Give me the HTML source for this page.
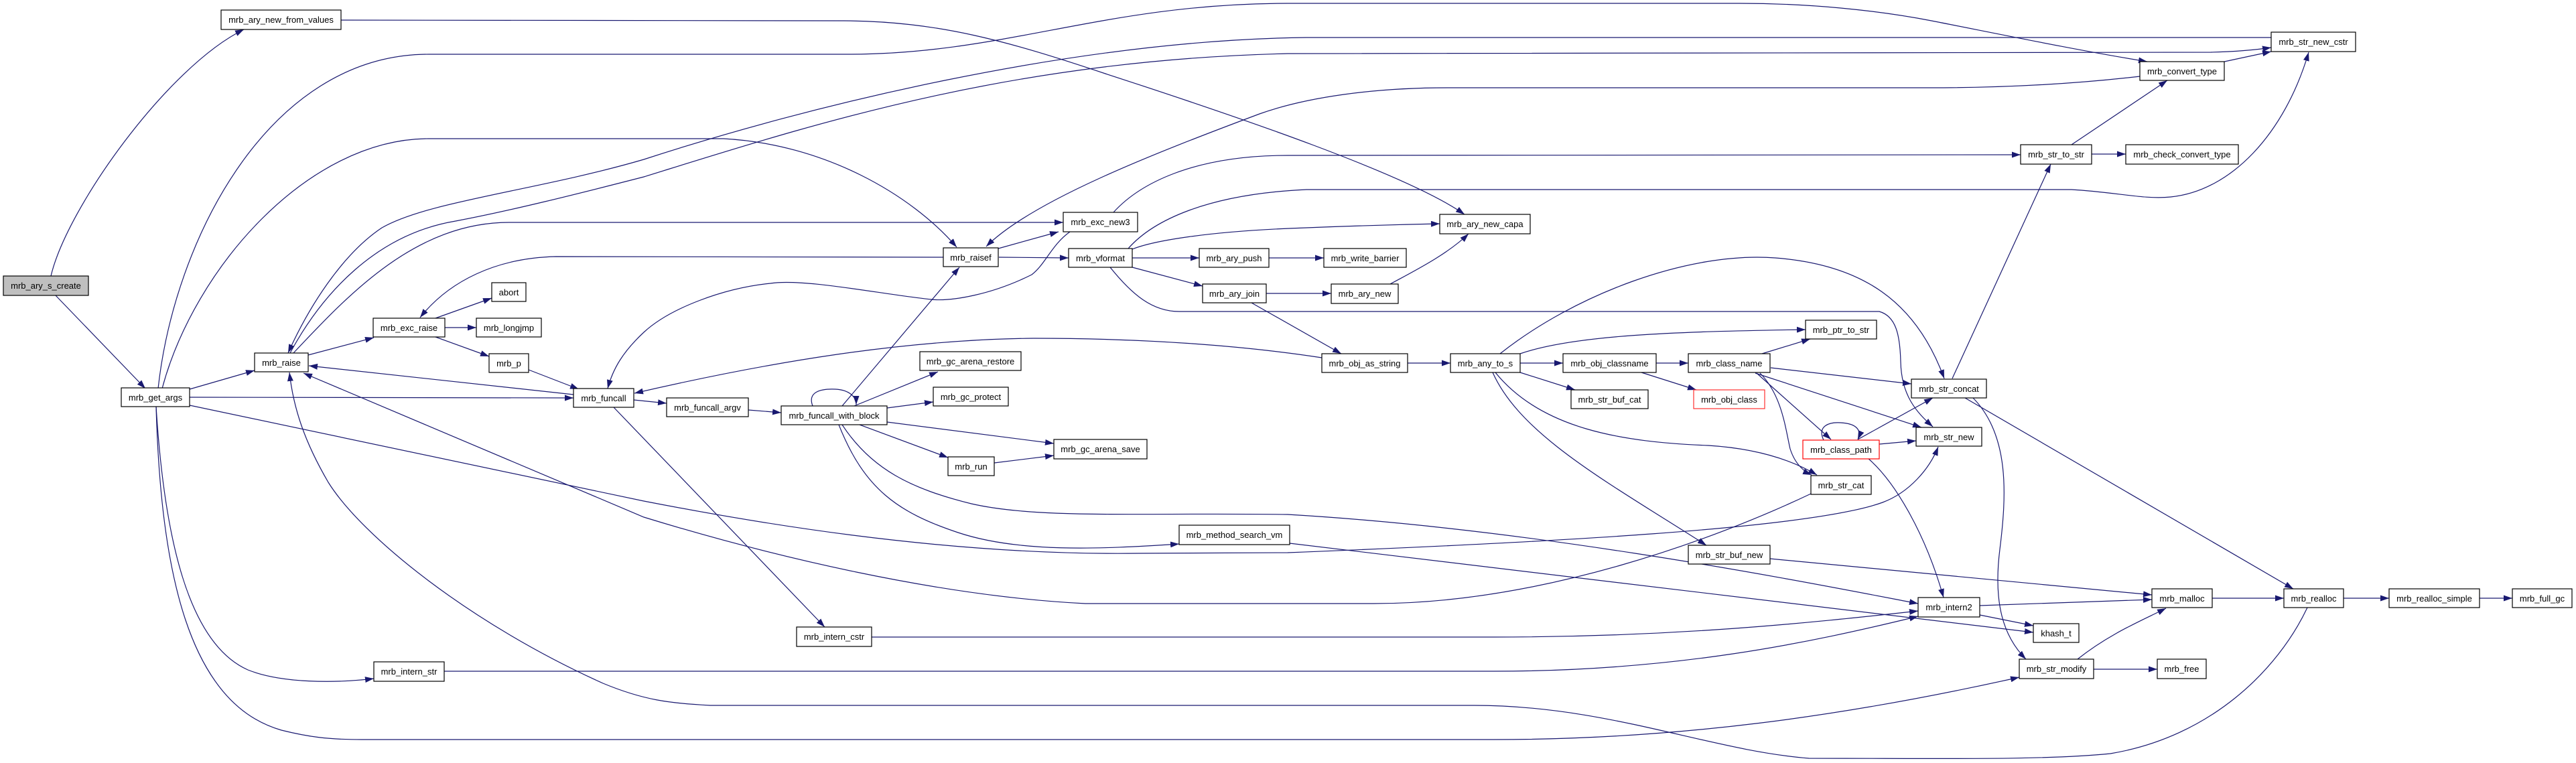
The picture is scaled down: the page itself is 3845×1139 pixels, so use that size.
<!DOCTYPE html>
<html><head><meta charset="utf-8"><style>
html,body{margin:0;padding:0;background:#fff;}
svg{display:block;}
text{font-family:"Liberation Sans",Arial,sans-serif;font-size:13px;fill:#000;text-anchor:middle;}
.e{fill:none;stroke:#191970;stroke-width:1.2;marker-end:url(#a);}
.n{fill:#fff;stroke:#000;stroke-width:1.2;}
</style></head><body>
<svg width="3845" height="1139" viewBox="0 0 3845 1139" xmlns="http://www.w3.org/2000/svg">
<defs><marker id="a" markerUnits="userSpaceOnUse" markerWidth="13" markerHeight="9" refX="13" refY="4.5" orient="auto"><path d="M0,0 L13,4.5 L0,9 z" fill="#191970"/></marker></defs>
<rect width="3845" height="1139" fill="#fff"/>
<g>
<path class="e" d="M76,412 C100,310 250,100 364,44"/>
<path class="e" d="M83,441 L217,580"/>
<path class="e" d="M509,30 L1260,31 C1400,32 1500,60 1650,110 C1850,175 2100,260 2186,320"/>
<path class="e" d="M283,581 L380,553"/>
<path class="e" d="M242,580 C290,400 460,207 640,207 L1080,207 C1230,215 1360,290 1428,369"/>
<path class="e" d="M236,580 C260,360 400,81 640,81 L1267,81 C1500,81 1650,5 1922,5 L2596,5 C2700,5 2800,15 2883,31 C2980,50 3100,75 3205,92"/>
<path class="e" d="M283,593 L856,594"/>
<path class="e" d="M283,605 L961,748 C1100,775 1400,830 1700,826 L1922,825 C2300,810 2700,790 2810,750 C2850,735 2880,700 2893,667"/>
<path class="e" d="M233,607 C245,800 280,960 370,1000 C420,1020 500,1020 558,1013"/>
<path class="e" d="M233,607 C240,850 280,1050 420,1090 C460,1100 490,1104 540,1104 L2230,1104 C2500,1104 2750,1070 3014,1011"/>
<path class="e" d="M663,1002 L2230,1002 C2500,1002 2700,960 2863,920"/>
<path class="e" d="M1301,951 L2230,951 C2500,951 2700,930 2863,912"/>
<path class="e" d="M460,530 L558,504"/>
<path class="e" d="M650,475 L734,445"/>
<path class="e" d="M664,489 L711,489"/>
<path class="e" d="M650,503 L730,532"/>
<path class="e" d="M789,552 L864,581"/>
<path class="e" d="M856,589 L461,546"/>
<path class="e" d="M438,527 C520,440 620,332 760,332 L1587,332"/>
<path class="e" d="M3390,56 L1950,56 C1600,60 1200,160 961,238 C800,285 640,300 570,340 C510,380 460,460 430,527"/>
<path class="e" d="M433,527 C480,440 560,350 680,330 C760,315 860,290 961,264 C1200,190 1500,90 1922,80 L3300,78 C3340,77 3370,74 3390,71"/>
<path class="e" d="M1408,384 L830,383 C740,385 670,420 627,474"/>
<path class="e" d="M1490,371 L1580,346"/>
<path class="e" d="M1491,384 L1595,385"/>
<path class="e" d="M1597,346 C1570,365 1560,395 1540,410 C1480,440 1420,450 1390,447 C1320,440 1200,415 1150,423 C1080,430 1000,460 961,496 C930,525 915,550 907,580"/>
<path class="e" d="M946,597 L995,602"/>
<path class="e" d="M916,608 L1231,936"/>
<path class="e" d="M1117,612 L1166,616"/>
<path class="e" d="M1213,606 C1205,585 1225,580 1247,581 C1267,582 1278,592 1278,604"/>
<path class="e" d="M1257,606 L1432,399"/>
<path class="e" d="M1275,606 L1400,555"/>
<path class="e" d="M1324,609 L1393,600"/>
<path class="e" d="M1324,630 L1573,662"/>
<path class="e" d="M1283,634 L1415,683"/>
<path class="e" d="M1484,691 L1573,680"/>
<path class="e" d="M1252,634 C1290,730 1340,765 1430,795 C1520,825 1640,820 1760,812"/>
<path class="e" d="M1257,634 C1300,700 1360,730 1450,752 C1550,775 1700,765 1922,768 C2300,790 2700,870 2863,901"/>
<path class="e" d="M1973,534 C1850,515 1700,505 1543,505 C1350,507 1150,540 947,587"/>
<path class="e" d="M1662,317 C1700,275 1780,232 1922,232 L3016,231"/>
<path class="e" d="M1684,371 C1720,330 1800,290 1950,283 L3092,283 C3160,287 3200,298 3240,294 C3330,285 3410,200 3446,78"/>
<path class="e" d="M1690,372 C1720,360 1800,345 1950,340 C2050,336 2100,335 2149,334"/>
<path class="e" d="M1690,385 L1790,385"/>
<path class="e" d="M1690,399 L1795,427"/>
<path class="e" d="M1657,399 C1690,440 1720,465 1760,465 L2805,465 C2830,472 2836,500 2837,540 C2838,590 2860,615 2885,637"/>
<path class="e" d="M1894,385 L1976,385"/>
<path class="e" d="M1890,438 L1987,438"/>
<path class="e" d="M1868,452 L2002,528"/>
<path class="e" d="M2075,424 C2110,405 2160,380 2192,349"/>
<path class="e" d="M2101,542 L2165,542"/>
<path class="e" d="M2269,542 L2333,542"/>
<path class="e" d="M2472,542 L2520,542"/>
<path class="e" d="M2630,528 L2702,506"/>
<path class="e" d="M2269,528 C2350,500 2500,495 2695,492"/>
<path class="e" d="M2239,528 C2350,440 2520,375 2650,385 C2780,395 2860,450 2902,565"/>
<path class="e" d="M2269,556 L2351,582"/>
<path class="e" d="M2232,556 C2300,640 2420,660 2550,665 C2630,670 2680,690 2712,709"/>
<path class="e" d="M2228,556 C2270,650 2400,720 2547,814"/>
<path class="e" d="M2450,556 L2532,582"/>
<path class="e" d="M2622,557 L2733,656"/>
<path class="e" d="M2627,557 C2660,590 2665,640 2672,670 C2680,695 2695,705 2704,709"/>
<path class="e" d="M2620,557 L2868,638"/>
<path class="e" d="M2643,549 L2853,573"/>
<path class="e" d="M2722,657 C2712,636 2730,630 2747,631 C2768,632 2780,640 2773,656"/>
<path class="e" d="M2773,656 L2885,594"/>
<path class="e" d="M2805,663 L2860,658"/>
<path class="e" d="M2788,684 C2830,720 2875,800 2901,892"/>
<path class="e" d="M2703,737 C2560,805 2300,901 2050,901 L1620,901 C1400,890 1150,830 961,772 L453,557"/>
<path class="e" d="M3444,907 C3400,1000 3300,1100 3150,1125 C3050,1135 2900,1132 2700,1132 C2550,1120 2400,1053 2200,1053 L1060,1053 C1000,1050 960,1045 900,1020 C700,930 540,800 490,720 C455,660 438,610 432,556"/>
<path class="e" d="M1925,811 L3035,944"/>
<path class="e" d="M2955,918 L3035,934"/>
<path class="e" d="M2955,904 L3212,895"/>
<path class="e" d="M2642,834 L3212,888"/>
<path class="e" d="M3101,984 C3150,945 3200,925 3233,908"/>
<path class="e" d="M3125,999 L3220,999"/>
<path class="e" d="M3302,893 L3409,893"/>
<path class="e" d="M3498,893 L3566,893"/>
<path class="e" d="M3701,893 L3750,893"/>
<path class="e" d="M2933,594 L3423,879"/>
<path class="e" d="M2945,594 C3000,650 2995,740 2985,820 C2975,900 2990,950 3024,984"/>
<path class="e" d="M2914,565 L3061,245"/>
<path class="e" d="M3092,216 L3235,120"/>
<path class="e" d="M3122,230 L3173,230"/>
<path class="e" d="M3320,92 L3390,77"/>
<path class="e" d="M3194,114 C3100,125 3000,131 2880,131 L2160,131 C2050,131 1950,145 1880,170 C1720,230 1540,300 1472,368"/>
</g>
<g>
<rect class="n" x="5" y="412" width="127" height="29" style="fill:#bfbfbf"/><text x="68.5" y="431">mrb_ary_s_create</text>
<rect class="n" x="330" y="15" width="179" height="29"/><text x="419.5" y="34">mrb_ary_new_from_values</text>
<rect class="n" x="181" y="579" width="102" height="28"/><text x="232" y="598">mrb_get_args</text>
<rect class="n" x="380" y="527" width="80" height="28"/><text x="420" y="546">mrb_raise</text>
<rect class="n" x="557" y="475" width="107" height="28"/><text x="610.5" y="494">mrb_exc_raise</text>
<rect class="n" x="734" y="422" width="51" height="28"/><text x="759.5" y="441">abort</text>
<rect class="n" x="711" y="475" width="97" height="28"/><text x="759.5" y="494">mrb_longjmp</text>
<rect class="n" x="730" y="528" width="59" height="28"/><text x="759.5" y="547">mrb_p</text>
<rect class="n" x="856" y="580" width="90" height="28"/><text x="901" y="599">mrb_funcall</text>
<rect class="n" x="558" y="988" width="105" height="29"/><text x="610.5" y="1007">mrb_intern_str</text>
<rect class="n" x="1587" y="317" width="111" height="29"/><text x="1642.5" y="336">mrb_exc_new3</text>
<rect class="n" x="1408" y="370" width="82" height="28"/><text x="1449" y="389">mrb_raisef</text>
<rect class="n" x="1595" y="371" width="95" height="28"/><text x="1642.5" y="390">mrb_vformat</text>
<rect class="n" x="1790" y="371" width="104" height="28"/><text x="1842" y="390">mrb_ary_push</text>
<rect class="n" x="1795" y="424" width="95" height="28"/><text x="1842.5" y="443">mrb_ary_join</text>
<rect class="n" x="1373" y="525" width="151" height="28"/><text x="1448.5" y="544">mrb_gc_arena_restore</text>
<rect class="n" x="995" y="594" width="122" height="28"/><text x="1056" y="613">mrb_funcall_argv</text>
<rect class="n" x="1166" y="606" width="158" height="28"/><text x="1245" y="625">mrb_funcall_with_block</text>
<rect class="n" x="1393" y="578" width="112" height="28"/><text x="1449" y="597">mrb_gc_protect</text>
<rect class="n" x="1573" y="656" width="139" height="29"/><text x="1642.5" y="675">mrb_gc_arena_save</text>
<rect class="n" x="1415" y="682" width="69" height="28"/><text x="1449.5" y="701">mrb_run</text>
<rect class="n" x="1760" y="784" width="165" height="29"/><text x="1842.5" y="803">mrb_method_search_vm</text>
<rect class="n" x="1189" y="936" width="112" height="29"/><text x="1245" y="955">mrb_intern_cstr</text>
<rect class="n" x="2149" y="320" width="135" height="29"/><text x="2216.5" y="339">mrb_ary_new_capa</text>
<rect class="n" x="1976" y="371" width="123" height="28"/><text x="2037.5" y="390">mrb_write_barrier</text>
<rect class="n" x="1987" y="424" width="100" height="29"/><text x="2037" y="443">mrb_ary_new</text>
<rect class="n" x="2695" y="478" width="106" height="28"/><text x="2748" y="497">mrb_ptr_to_str</text>
<rect class="n" x="1973" y="528" width="128" height="28"/><text x="2037" y="547">mrb_obj_as_string</text>
<rect class="n" x="2165" y="528" width="104" height="28"/><text x="2217" y="547">mrb_any_to_s</text>
<rect class="n" x="2333" y="528" width="139" height="28"/><text x="2402.5" y="547">mrb_obj_classname</text>
<rect class="n" x="2520" y="528" width="122" height="28"/><text x="2581" y="547">mrb_class_name</text>
<rect class="n" x="2345" y="582" width="115" height="28"/><text x="2402.5" y="601">mrb_str_buf_cat</text>
<rect class="n" x="2528" y="582" width="106" height="28" style="stroke:#ff3030"/><text x="2581" y="601">mrb_obj_class</text>
<rect class="n" x="2691" y="657" width="114" height="28" style="stroke:#ff0000"/><text x="2748" y="676">mrb_class_path</text>
<rect class="n" x="2703" y="710" width="90" height="28"/><text x="2748" y="729">mrb_str_cat</text>
<rect class="n" x="2520" y="814" width="122" height="28"/><text x="2581" y="833">mrb_str_buf_new</text>
<rect class="n" x="2853" y="566" width="112" height="28"/><text x="2909" y="585">mrb_str_concat</text>
<rect class="n" x="2860" y="638" width="98" height="28"/><text x="2909" y="657">mrb_str_new</text>
<rect class="n" x="2863" y="892" width="92" height="29"/><text x="2909" y="911">mrb_intern2</text>
<rect class="n" x="3390" y="48" width="126" height="29"/><text x="3453" y="67">mrb_str_new_cstr</text>
<rect class="n" x="3194" y="92" width="126" height="28"/><text x="3257" y="111">mrb_convert_type</text>
<rect class="n" x="3016" y="216" width="106" height="29"/><text x="3069" y="235">mrb_str_to_str</text>
<rect class="n" x="3173" y="216" width="168" height="29"/><text x="3257" y="235">mrb_check_convert_type</text>
<rect class="n" x="3212" y="879" width="90" height="28"/><text x="3257" y="898">mrb_malloc</text>
<rect class="n" x="3409" y="879" width="89" height="28"/><text x="3453.5" y="898">mrb_realloc</text>
<rect class="n" x="3566" y="879" width="135" height="28"/><text x="3633.5" y="898">mrb_realloc_simple</text>
<rect class="n" x="3750" y="879" width="89" height="28"/><text x="3794.5" y="898">mrb_full_gc</text>
<rect class="n" x="3035" y="931" width="68" height="28"/><text x="3069" y="950">khash_t</text>
<rect class="n" x="3014" y="984" width="111" height="29"/><text x="3069.5" y="1003">mrb_str_modify</text>
<rect class="n" x="3220" y="984" width="73" height="29"/><text x="3256.5" y="1003">mrb_free</text>
</g>
</svg>
</body></html>
